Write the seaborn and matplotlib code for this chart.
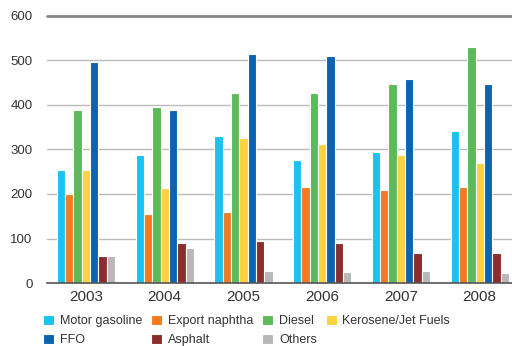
import pandas as pd
import numpy as np
import matplotlib
matplotlib.use('Agg')
import matplotlib.pyplot as plt
import seaborn as sns

# 연도별 제품 생산량
years = ['2003', '2004', '2005', '2006', '2007', '2008']
products = ['Motor gasoline', 'Export naphtha', 'Diesel', 'Kerosene/Jet Fuels',
            'FFO', 'Asphalt', 'Others']
motor_gasoline = [253, 287, 330, 276, 294, 341]
export_naphtha = [200, 154, 159, 215, 208, 215]
diesel = [388, 395, 426, 426, 446, 530]
kerosene = [255, 213, 325, 312, 287, 269]
ffo = [496, 388, 514, 509, 458, 446]
asphalt = [60, 91, 94, 91, 67, 67]
others = [60, 78, 28, 24, 26, 22]
colors = ['#1BC1EF', '#F47A20', '#5CBB58', '#FDD13F', '#0E63B0', '#8A2D2D', '#B8B8B8']

series = [motor_gasoline, export_naphtha, diesel, kerosene, ffo, asphalt, others]
rows = []
for name, vals in zip(products, series):
    for yr, v in zip(years, vals):
        rows.append({'year': yr, 'product': name, 'value': v})
df = pd.DataFrame(rows)

sns.set_style('white')
plt.rcParams['font.family'] = ['Liberation Sans', 'DejaVu Sans']

fig = plt.figure(figsize=(5.12, 3.46), dpi=100)
ax = fig.add_axes([0.091, 0.182, 0.909, 0.772])

sns.barplot(data=df, x='year', y='value', hue='product', hue_order=products,
            palette=colors, width=0.74, edgecolor='white', linewidth=0.8,
            saturation=1, ax=ax, legend=True)

ax.set_ylim(0, 600)
ax.set_xlim(-0.5, 5.41)
ax.set_xlabel('')
ax.set_ylabel('')

# 격자선
ax.set_yticks([0, 100, 200, 300, 400, 500, 600])
for v in [100, 200, 300, 400, 500]:
    ax.axhline(v, color='#BBBBBB', lw=1, zorder=0)
ax.axhline(600, color='#888888', lw=2, zorder=0, clip_on=False)
ax.tick_params(axis='y', length=0, pad=10, labelsize=9.5, labelcolor='#333333')

# x축: 경계에 눈금
ax.set_xticks(range(len(years)))
ax.set_xticklabels(years)
ax.set_xticks(np.arange(-0.5, 5.5, 1), minor=True)
ax.tick_params(axis='x', which='major', length=0, pad=5, labelsize=11, labelcolor='#333333')
ax.tick_params(axis='x', which='minor', length=6, width=1, color='#555555', direction='out')

for s in ['left', 'right', 'top']:
    ax.spines[s].set_visible(False)
ax.spines['bottom'].set_color('#555555')
ax.spines['bottom'].set_linewidth(1.2)

# 범례: 행 우선 순서로 재배열
handles, labels = ax.get_legend_handles_labels()
ax.get_legend().remove()
order = [0, 4, 1, 5, 2, 6, 3]
fig.legend([handles[i] for i in order], [labels[i] for i in order],
           ncol=4, loc='upper left', bbox_to_anchor=(0.072, 0.108),
           frameon=False, fontsize=9, handlelength=0.9, handleheight=0.9,
           handletextpad=0.45, columnspacing=0.7, labelspacing=0.5,
           borderpad=0, labelcolor='#333333')

fig.savefig('out.png', dpi=100)
